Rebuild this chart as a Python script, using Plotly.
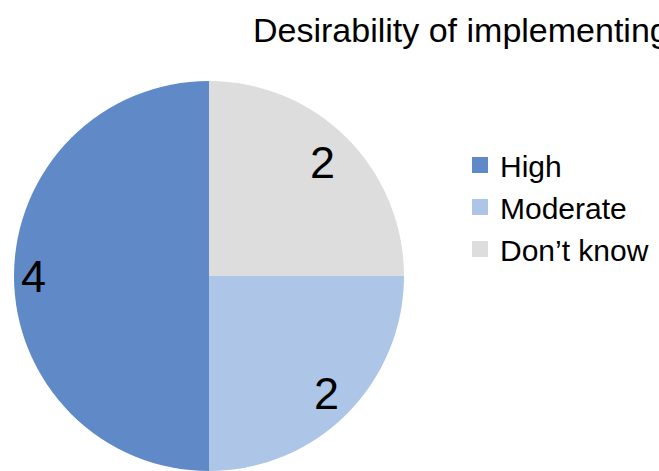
import math
import plotly.graph_objects as go

labels = ["High", "Moderate", "Don\u2019t know"]
values = [4, 2, 2]
colors = ["#5f8ac7", "#adc5e7", "#dddddd"]
title_text = "Desirability of implementing the proposed measures"

W, H = 659, 471
FONT = "Liberation Sans, Arial, sans-serif"

# pie placement (pixels)
pie_left, pie_right, pie_top = 13, 405, 81
dom_x = [pie_left / W, pie_right / W]
dom_y = [0, 1 - pie_top / H]
radius = min(pie_right - pie_left, H - pie_top) / 2
cx = (pie_left + pie_right) / 2
cy = H - radius
label_radius_frac = [0.9, 0.85, 0.82]

fig = go.Figure()
fig.add_trace(
    go.Pie(
        labels=labels,
        values=values,
        marker=dict(colors=colors, line=dict(width=0)),
        sort=False,
        direction="counterclockwise",
        rotation=180,
        textinfo="none",
        domain=dict(x=dom_x, y=dom_y),
        hoverinfo="label+value",
        showlegend=False,
    )
)

# legend entries with larger square swatches
for lab, col in zip(labels, colors):
    fig.add_trace(
        go.Scatter(
            x=[None], y=[None], mode="markers", name=lab,
            marker=dict(symbol="square", size=18, color=col),
            showlegend=True, hoverinfo="skip",
        )
    )

# value labels placed at each slice's mid-angle (counterclockwise from 12 o'clock)
total = sum(values)
start = 90.0
annotations = []
for v, frac in zip(values, label_radius_frac):
    span = 360.0 * v / total
    mid = math.radians(start + span / 2)
    start += span
    px = cx + frac * radius * math.cos(mid)
    py = cy - frac * radius * math.sin(mid)
    annotations.append(
        dict(
            x=px / W, y=1 - py / H, xref="paper", yref="paper",
            text=str(v), showarrow=False,
            font=dict(family=FONT, size=45, color="black"),
            xanchor="center", yanchor="middle",
        )
    )

fig.update_layout(
    width=W,
    height=H,
    margin=dict(l=0, r=0, t=0, b=0),
    paper_bgcolor="white",
    plot_bgcolor="white",
    font=dict(family=FONT, color="black"),
    xaxis=dict(visible=False),
    yaxis=dict(visible=False),
    annotations=annotations,
    title=dict(
        text=title_text,
        font=dict(size=34, color="black"),
        x=253 / W,
        xanchor="left",
        xref="paper",
        y=1 - 30 / H,
        yanchor="middle",
        yref="container",
    ),
    legend=dict(
        x=460 / W,
        xanchor="left",
        y=1 - 139 / H,
        yanchor="top",
        font=dict(size=30, color="black"),
        bgcolor="rgba(0,0,0,0)",
        itemwidth=30,
        itemsizing="trace",
    ),
    showlegend=True,
)

fig.write_html("out.html")
